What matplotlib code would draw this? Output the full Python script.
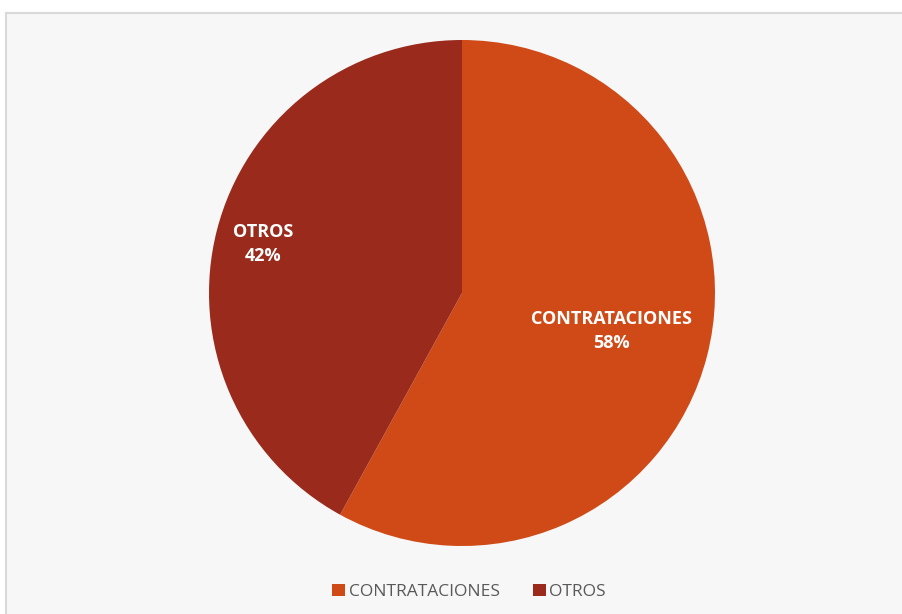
import numpy as np
import matplotlib.pyplot as plt
from matplotlib.patches import Patch

labels = ["CONTRATACIONES", "OTROS"]
shares = [58, 42]
colors = ["#D04A17", "#9A2A1C"]
# radial distance and small angular nudge of each data label
label_radius = [0.61, 0.81]
label_nudge = [0.2, 0.6]

plt.rcParams['font.family'] = ['Open Sans', 'DejaVu Sans']

W, H = 902, 614
fig = plt.figure(figsize=(W / 100, H / 100), dpi=100)
fig.patch.set_facecolor("#FFFFFF")

# chart frame
frame = fig.add_axes([6 / W, 0, 1 - 6 / W, 1 - 13 / H])
frame.set_facecolor("#F7F7F7")
frame.set_xticks([])
frame.set_yticks([])
for side in ["right", "bottom"]:
    frame.spines[side].set_visible(False)
for side in ["top", "left"]:
    frame.spines[side].set_color("#D9D9D9")
    frame.spines[side].set_linewidth(1.5)

cx, cy, r = 462, 293, 253
ax = fig.add_axes([(cx - r) / W, (H - cy - r) / H, 2 * r / W, 2 * r / H])
ax.pie(shares, colors=colors, startangle=90, counterclock=False,
       wedgeprops=dict(linewidth=0))
ax.set_aspect("equal")
ax.set_xlim(-1, 1)
ax.set_ylim(-1, 1)
ax.axis("off")

# data labels at each wedge's mid angle
start = 90.0
for name, val, rr, nudge in zip(labels, shares, label_radius, label_nudge):
    span = 360.0 * val / sum(shares)
    mid = np.deg2rad(start - span / 2 + nudge)
    start -= span
    ax.text(rr * np.cos(mid), rr * np.sin(mid), f"{name}\n{val}%",
            ha="center", va="center", color="white", fontsize=13,
            fontweight="bold", linespacing=1.4, clip_on=False)

handles = [Patch(facecolor=c, edgecolor="none") for c in colors]
fig.legend(handles, labels, loc="center", bbox_to_anchor=(0.52, 0.036),
           ncol=2, frameon=False, fontsize=12.5, handlelength=0.75,
           handleheight=0.75, handletextpad=0.2, columnspacing=1.9,
           labelcolor="#595959")

fig.savefig("out.png", dpi=100, facecolor=fig.get_facecolor())
